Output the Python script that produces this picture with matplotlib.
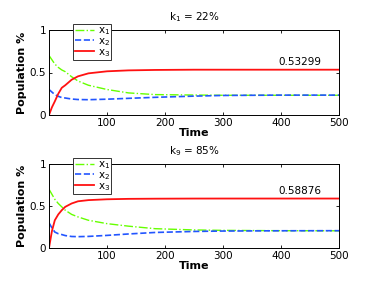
import matplotlib
matplotlib.use("Agg")
import matplotlib.pyplot as plt

t = [0, 5, 10, 16, 22, 28, 39, 50, 68, 100, 137, 183, 250, 300, 400, 500]

top_x1 = [0.70, 0.65, 0.60, 0.56, 0.53, 0.51, 0.45, 0.40, 0.35, 0.30, 0.26, 0.24, 0.235, 0.232, 0.232, 0.232]
top_x2 = [0.30, 0.27, 0.24, 0.22, 0.205, 0.20, 0.188, 0.182, 0.18, 0.186, 0.196, 0.208, 0.222, 0.23, 0.234, 0.234]
top_x3 = [0.0, 0.09, 0.16, 0.25, 0.32, 0.35, 0.415, 0.455, 0.49, 0.514, 0.525, 0.53, 0.533, 0.533, 0.533, 0.533]

bot_x1 = [0.70, 0.64, 0.58, 0.53, 0.49, 0.45, 0.40, 0.37, 0.33, 0.29, 0.26, 0.23, 0.215, 0.21, 0.206, 0.205]
bot_x2 = [0.30, 0.24, 0.19, 0.17, 0.16, 0.148, 0.137, 0.135, 0.138, 0.15, 0.167, 0.185, 0.197, 0.202, 0.205, 0.206]
bot_x3 = [0.0, 0.20, 0.33, 0.40, 0.45, 0.49, 0.53, 0.556, 0.57, 0.58, 0.585, 0.587, 0.5885, 0.5888, 0.5888, 0.5888]

titles = ["k$_1$ = 22%", "k$_9$ = 85%"]
finals = ["0.53299", "0.58876"]
xticks = [100, 200, 300, 400, 500]
yticks = [0, 0.5, 1]
yticklabels = ["0", "0.5", "1"]

plt.rcParams['font.family'] = ['DejaVu Sans']
fig = plt.figure(figsize=(3.74, 2.81), dpi=100)

W, H = 374, 281
ax_boxes = [(49, 30, 339, 115), (49, 164, 339, 248)]
data = [(top_x1, top_x2, top_x3), (bot_x1, bot_x2, bot_x3)]

for i, (box, (x1, x2, x3)) in enumerate(zip(ax_boxes, data)):
    l, tp, r, b = box
    ax = fig.add_axes([l / W, 1 - b / H, (r - l) / W, (b - tp) / H])
    ax.plot(t, x1, color='#66ff00', ls='-.', lw=1.0, label='x$_1$')
    ax.plot(t, x2, color='#2255ff', ls='--', lw=1.2, label='x$_2$')
    ax.plot(t, x3, color='#ff1111', ls='-', lw=1.3, label='x$_3$')
    ax.set_xlim(0, 500)
    ax.set_ylim(0, 1)
    ax.set_xticks(xticks)
    ax.set_yticks(yticks)
    ax.set_yticklabels(yticklabels)
    ax.tick_params(direction='in', top=True, right=True, labelsize=7.5, length=2.5, width=0.6, pad=2)
    for s in ax.spines.values():
        s.set_linewidth(0.7)
    ax.set_xlabel('Time', fontsize=8, fontweight='bold', labelpad=0)
    ax.set_ylabel('Population %', fontsize=8, fontweight='bold', labelpad=2)
    ax.set_title(titles[i], fontsize=7.5, pad=7)
    ax.text(432, x3[-1] + 0.03, finals[i], fontsize=7.5, ha='center', va='bottom')
    leg = ax.legend(loc='upper left', bbox_to_anchor=(0.083, 1.075), fontsize=7.5,
                    frameon=True, fancybox=False, edgecolor='#333333', framealpha=1,
                    handlelength=1.9, borderpad=0.15, labelspacing=-0.1, handletextpad=0.3,
                    borderaxespad=0)
    leg.get_frame().set_linewidth(0.7)

fig.savefig('out.png', dpi=100)
